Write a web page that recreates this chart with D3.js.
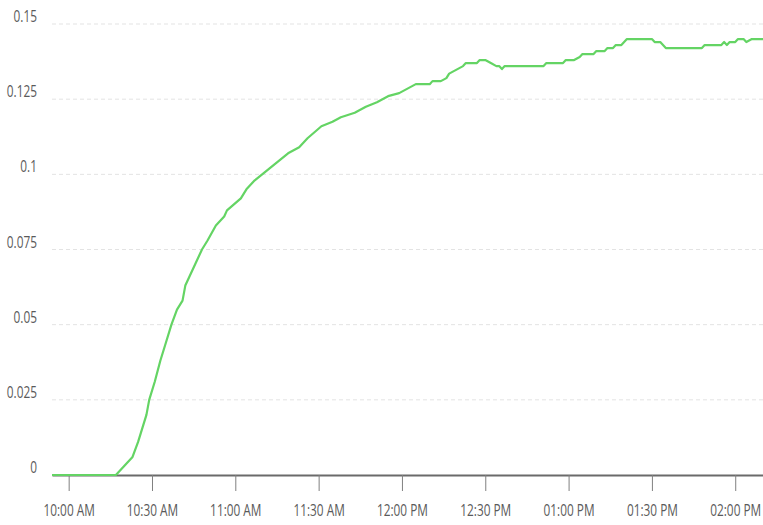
<!DOCTYPE html>
<html>
<head>
<meta charset="utf-8">
<script src="https://cdn.jsdelivr.net/npm/d3@7"></script>
<style>
  html, body { margin: 0; padding: 0; background: #fff; }
  svg { display: block; }
  text { font-family: "Open Sans", sans-serif; fill: #5a5a5a; }
</style>
</head>
<body>
<svg id="chart" width="763" height="525"></svg>
<script>
// ---- data ----
const times = ["09:54","10:17","10:19","10:20","10:23","10:25","10:26","10:28","10:29","10:31","10:33",
  "10:35","10:37","10:39","10:41","10:42","10:45","10:48","10:50","10:53","10:56",
  "10:57","11:02","11:04","11:07","11:11","11:15","11:19","11:23","11:26","11:31",
  "11:35","11:38","11:43","11:47","11:51","11:55","11:59","12:03","12:05","12:10",
  "12:11","12:14","12:16","12:17","12:20","12:22","12:23","12:27","12:28","12:30",
  "12:32","12:34","12:35","12:36","12:37","12:51","12:52","12:58","12:59","13:02",
  "13:04","13:05","13:09","13:10","13:13","13:14","13:16","13:17","13:19","13:20",
  "13:21","13:30","13:31","13:33","13:35","13:48","13:49","13:55","13:56","13:57",
  "13:58","14:00","14:01","14:03","14:04","14:06","14:10"];
const values = [0,0,0.002,0.003,0.006,0.011,0.014,0.020,0.025,0.031,0.038,
  0.044,0.050,0.055,0.058,0.063,0.069,0.075,0.078,0.083,0.086,
  0.088,0.092,0.095,0.098,0.101,0.104,0.107,0.109,0.112,0.116,
  0.1175,0.119,0.1205,0.1225,0.124,0.126,0.127,0.129,0.130,0.130,
  0.131,0.131,0.132,0.1335,0.135,0.136,0.137,0.137,0.138,0.138,
  0.137,0.136,0.136,0.135,0.136,0.136,0.137,0.137,0.138,0.138,
  0.139,0.140,0.140,0.141,0.141,0.142,0.142,0.143,0.143,0.144,
  0.145,0.145,0.144,0.144,0.142,0.142,0.143,0.143,0.144,0.143,
  0.144,0.144,0.145,0.145,0.144,0.145,0.145];
const yTickValues = [0, 0.025, 0.05, 0.075, 0.1, 0.125, 0.15];
const yTickLabels = ["0", "0.025", "0.05", "0.075", "0.1", "0.125", "0.15"];
const xTickLabels = ["10:00 AM","10:30 AM","11:00 AM","11:30 AM","12:00 PM","12:30 PM","01:00 PM","01:30 PM","02:00 PM"];
const xDomain = ["09:54", "14:10"];

// ---- chart ----
const parseTime = d3.timeParse("%H:%M");
const data = times.map((t, i) => ({ t: parseTime(t), v: values[i] }));

const svg = d3.select("#chart");
const plotLeft = 52, plotRight = 763, plotTop = 24, plotBottom = 475;
const textScale = 0.74;

const x = d3.scaleTime().domain(xDomain.map(parseTime)).range([plotLeft, plotRight]);
const y = d3.scaleLinear().domain([0, 0.15]).range([plotBottom, plotTop]);

// gridlines
svg.append("g").selectAll("line")
  .data(yTickValues.filter(v => v > 0))
  .join("line")
  .attr("x1", plotLeft).attr("x2", plotRight)
  .attr("y1", d => y(d)).attr("y2", d => y(d))
  .attr("stroke", "#e3e3e3")
  .attr("stroke-width", 1)
  .attr("stroke-dasharray", "4,3");

// y labels
svg.append("g").selectAll("text")
  .data(yTickValues)
  .join("text")
  .attr("transform", d => `translate(37,${y(d) - 2}) scale(${textScale},1)`)
  .attr("text-anchor", "end")
  .style("font-size", "16px")
  .text((d, i) => yTickLabels[i]);

// x axis
const xTicks = d3.timeMinute.every(30).range(parseTime("10:00"), parseTime("14:01"));
const xAxis = d3.axisBottom(x)
  .tickValues(xTicks)
  .tickSize(16)
  .tickSizeOuter(0)
  .tickFormat((d, i) => xTickLabels[i]);

const gx = svg.append("g")
  .attr("transform", `translate(0,${plotBottom})`)
  .call(xAxis);
gx.select(".domain").attr("stroke", "#6a6a6a").attr("stroke-width", 2);
gx.selectAll(".tick line").attr("stroke", "#808080").attr("stroke-width", 1);
gx.selectAll(".tick text")
  .attr("y", 0)
  .attr("dy", 0)
  .attr("transform", `translate(0,41) scale(${textScale},1)`)
  .style("font-size", "16px")
  .style("font-family", "'Open Sans', sans-serif")
  .attr("fill", "#5a5a5a");

// line
const line = d3.line().x(d => x(d.t)).y(d => y(d.v));
svg.append("path")
  .datum(data)
  .attr("d", line)
  .attr("fill", "none")
  .attr("stroke", "#64d464")
  .attr("stroke-width", 2.2)
  .attr("stroke-linejoin", "round");
</script>
</body>
</html>
